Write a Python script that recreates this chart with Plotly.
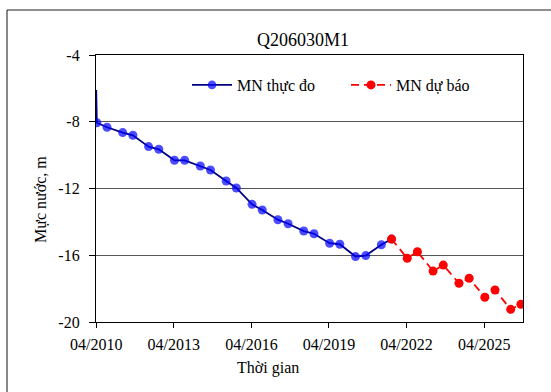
import plotly.graph_objects as go

# ---- data ----
obs_dates = ["2010-04-01", "2010-04-10", "2010-09-01", "2011-04-10", "2011-09-01",
             "2012-04-10", "2012-09-01", "2013-04-10", "2013-09-01",
             "2014-04-10", "2014-09-01", "2015-04-10", "2015-09-01",
             "2016-04-10", "2016-09-01", "2017-04-10", "2017-09-01",
             "2018-04-10", "2018-09-01", "2019-04-10", "2019-09-01",
             "2020-04-10", "2020-09-01", "2021-04-10", "2021-09-01"]
obs_values = [-6.1, -8.06, -8.33, -8.65, -8.81,
              -9.49, -9.65, -10.31, -10.31,
              -10.65, -10.89, -11.55, -11.97,
              -12.95, -13.29, -13.87, -14.11,
              -14.55, -14.71, -15.28, -15.34,
              -16.08, -16.02, -15.37, -15.03]

fc_dates = ["2021-09-01", "2022-04-10", "2022-09-01", "2023-04-10", "2023-09-01",
            "2024-04-10", "2024-09-01", "2025-04-10", "2025-09-01",
            "2026-04-10", "2026-09-01"]
fc_values = [-15.03, -16.18, -15.79, -16.95, -16.59,
             -17.68, -17.38, -18.52, -18.08, -19.24, -18.94]

y_ticks = [-20, -16, -12, -8, -4]
y_ticktext = ["-20", "-16", "-12", "-8", "-4"]

title_text = "Q206030M1"
x_title = "Thời gian"
y_title = "Mực nước, m"
obs_name = "MN thực đo"
fc_name = "MN dự báo"

FONT = "Liberation Serif, Times New Roman, serif"
W, H = 551, 392
L, R, T, B = 96, 523, 55, 322


def px_x(p):
    return (p - L) / (R - L)


def px_y(p):
    return (B - p) / (B - T)


obs_marker_sizes = [0] + [9] * (len(obs_values) - 1)

fig = go.Figure()
fig.add_trace(go.Scatter(
    x=obs_dates, y=obs_values, name=obs_name, mode="lines+markers",
    line=dict(color="#000080", width=1.8),
    marker=dict(color="#0000FF", size=obs_marker_sizes, line=dict(width=0)),
))
fig.add_trace(go.Scatter(
    x=fc_dates, y=fc_values, name=fc_name, mode="lines+markers",
    line=dict(color="#FF0000", width=1.8, dash="8px,5px"),
    marker=dict(color="#FF0000", size=9, line=dict(width=0)),
))

fig.update_layout(
    width=W, height=H,
    margin=dict(l=L, r=W - R, t=T, b=H - B),
    paper_bgcolor="white", plot_bgcolor="white",
    font=dict(family=FONT, size=15, color="black"),
    showlegend=True,
    legend=dict(orientation="h", x=px_x(187), y=px_y(85), xanchor="left", yanchor="middle",
                bgcolor="rgba(0,0,0,0)", font=dict(size=16, family=FONT),
                itemwidth=40, tracegroupgap=0, entrywidth=104),
    title=dict(text=title_text, x=px_x(303), xref="paper", xanchor="center",
               y=1 - 40 / H, yanchor="middle", font=dict(size=18, family=FONT)),
)

fig.update_xaxes(
    type="date", range=["2010-03-29", "2026-10-01"],
    tick0="2010-04-01", dtick="M36", tickformat="%m/%Y",
    ticks="outside", ticklen=5, tickcolor="black",
    showline=True, linecolor="black", linewidth=1.2, mirror=True,
    showgrid=False, zeroline=False, tickfont=dict(size=16, family=FONT),
    ticklabelstandoff=3,
)
fig.update_yaxes(
    range=[-20, -4], tickvals=y_ticks, ticktext=y_ticktext,
    ticks="outside", ticklen=6, tickcolor="black",
    showline=True, linecolor="black", linewidth=1.2, mirror=True,
    showgrid=True, gridcolor="#555555", gridwidth=1, zeroline=False,
    tickfont=dict(size=16, family=FONT), ticklabelstandoff=6,
)

fig.add_annotation(text=x_title, xref="paper", yref="paper", x=px_x(268), y=px_y(368),
                   showarrow=False, xanchor="center", yanchor="middle",
                   font=dict(size=16, family=FONT))
fig.add_annotation(text=y_title, xref="paper", yref="paper", x=px_x(40), y=px_y(200),
                   showarrow=False, xanchor="center", yanchor="middle", textangle=-90,
                   font=dict(size=16, family=FONT))

# outer chart frame
fig.add_shape(type="line", xref="paper", yref="paper", x0=px_x(7), x1=px_x(7),
              y0=px_y(10), y1=px_y(400), line=dict(color="#888888", width=2))
fig.add_shape(type="line", xref="paper", yref="paper", x0=px_x(7), x1=px_x(560),
              y0=px_y(10), y1=px_y(10), line=dict(color="#222222", width=1.2))

fig.write_html("out.html")
